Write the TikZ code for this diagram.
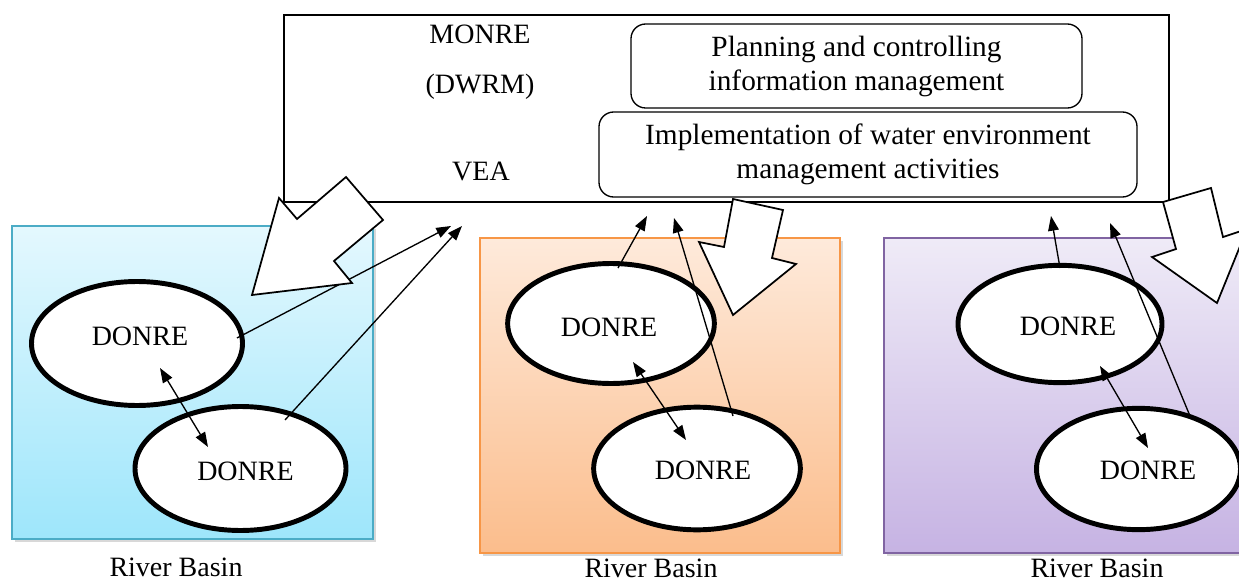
\documentclass[tikz,border=0pt]{standalone}
\usepackage{fontspec}
\setmainfont{Liberation Serif}
\usetikzlibrary{shapes.geometric,arrows.meta,shadows}
\definecolor{bluetop}{HTML}{E4F8FE}
\definecolor{bluebot}{HTML}{9EE6FB}
\definecolor{blueedge}{HTML}{4BACC6}
\definecolor{orangetop}{HTML}{FEEADB}
\definecolor{orangebot}{HTML}{FBBD8C}
\definecolor{orangeedge}{HTML}{F79646}
\definecolor{purpletop}{HTML}{EFEBF7}
\definecolor{purplebot}{HTML}{C6B3E3}
\definecolor{purpleedge}{HTML}{8064A2}
\begin{document}
\begin{tikzpicture}[x=0.75pt,y=-0.75pt,
  txt/.style={font=\fontsize{21}{25}\selectfont, inner sep=0pt, anchor=base},
  panel/.style={line width=1.4pt, drop shadow={opacity=0.3,shadow xshift=2pt,shadow yshift=-2.5pt}},
  donre/.style={ellipse, draw, line width=3.7pt, fill=white, inner sep=0pt},
  link/.style={line width=1pt, -{Triangle[length=11pt,width=8pt]}},
  twoway/.style={line width=1pt, {Triangle[length=11pt,width=8pt]}-{Triangle[length=11pt,width=8pt]}},
  block/.style={draw, fill=white, line width=1.3pt, line join=miter},
  card/.style={draw, rounded corners=11pt, line width=1pt, align=center, inner sep=0pt,
    font=\fontsize{22}{25.5}\selectfont},
]
\clip (0,0) rectangle (1239,581);
\fill[white] (0,0) rectangle (1239,581);

% river basin panels
\path[panel, draw=blueedge, top color=bluetop, bottom color=bluebot] (12,226) rectangle (373,539);
\path[panel, draw=orangeedge, top color=orangetop, bottom color=orangebot] (480,238) rectangle (840,553);
\path[panel, draw=purpleedge, top color=purpletop, bottom color=purplebot] (884,238) rectangle (1260,553);

\node[txt] (rb1) at (176,576) {River Basin};
\node[txt] (rb2) at (651,577) {River Basin};
\node[txt] (rb3) at (1097,577) {River Basin};

% top box
\node[draw, fill=white, line width=1.3pt, inner sep=0pt, minimum width=663.75pt, minimum height=140.25pt] (top) at (726.5,108.5) {};
\node[txt] (monre) at (480,44) {MONRE};
\node[txt] (dwrm) at (480,94) {(DWRM)};
\node[txt] (vea) at (481,181) {VEA};
\node[card, minimum width=338.25pt, minimum height=63pt] (plan) at (856.5,66)
  {Planning and controlling\\information management};
\node[card, minimum width=403.5pt, minimum height=63.75pt] (impl) at (868,154.5)
  {Implementation of water environment\\management activities};

% ellipses
\node[donre, minimum width=158.25pt, minimum height=93pt] (b1) at (137,343.5) {};
\node[txt] (b1t) at (140,345) {DONRE};
\node[donre, minimum width=158.25pt, minimum height=93pt] (b2) at (240.5,468.5) {};
\node[txt] (b2t) at (245.5,480) {DONRE};
\node[donre, minimum width=155pt, minimum height=90pt] (o1) at (611,323.5) {};
\node[txt] (o1t) at (609,336) {DONRE};
\node[donre, minimum width=155pt, minimum height=92pt] (o2) at (697,468.5) {};
\node[txt] (o2t) at (703,479) {DONRE};
\node[donre, minimum width=153pt, minimum height=88pt] (p1) at (1060,324) {};
\node[txt] (p1t) at (1068,335) {DONRE};
\node[donre, minimum width=153pt, minimum height=91pt] (p2) at (1138.5,469) {};
\node[txt] (p2t) at (1148,479) {DONRE};

% connector end points
\coordinate (bA0) at (237,338);  \coordinate (bA1) at (451,226);
\coordinate (bB0) at (285,420);  \coordinate (bB1) at (462,226);
\coordinate (bC0) at (160,368);  \coordinate (bC1) at (208,447);
\coordinate (oA0) at (618,268);  \coordinate (oA1) at (647,216);
\coordinate (oB0) at (733,416);  \coordinate (oB1) at (674,218);
\coordinate (oC0) at (633,362);  \coordinate (oC1) at (686,440);
\coordinate (pA0) at (1060,268); \coordinate (pA1) at (1051,216);
\coordinate (pB0) at (1190,416); \coordinate (pB1) at (1110,223);
\coordinate (pC0) at (1100,366); \coordinate (pC1) at (1148,448);

\draw[link] (bA0) -- (bA1);
\draw[link] (bB0) -- (bB1);
\draw[twoway] (bC0) -- (bC1);
\draw[link] (oA0) -- (oA1);
\draw[link] (oB0) -- (oB1);
\draw[twoway] (oC0) -- (oC1);
\draw[link] (pA0) -- (pA1);
\draw[link] (pB0) -- (pB1);
\draw[twoway] (pC0) -- (pC1);

% block arrows
\draw[block] (252,295) -- (279,198) -- (297,219) -- (346,177) -- (383,220) -- (334,261) -- (352,283) -- cycle;
\draw[block] (733,199) -- (783,210) -- (772,258) -- (796,264) -- (733,315) -- (699,242) -- (724,247) -- cycle;
\draw[block] (1163,202) -- (1211,188) -- (1223,237) -- (1247,229) -- (1217,303) -- (1152,257) -- (1176,249) -- cycle;
\end{tikzpicture}
\end{document}
